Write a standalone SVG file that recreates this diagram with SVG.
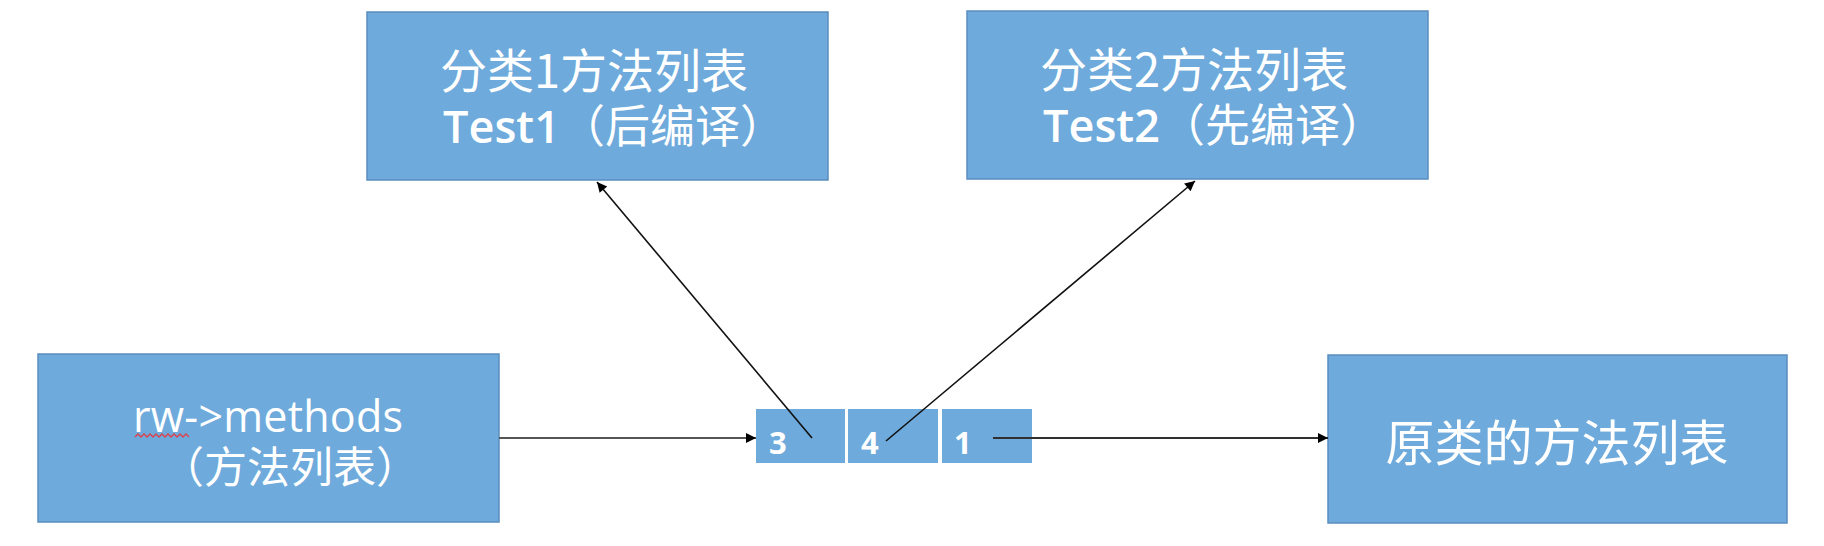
<svg xmlns="http://www.w3.org/2000/svg" width="1824" height="546" viewBox="0 0 1824 546">
<style>
.box{fill:#6eaadb;stroke:#5b8dbf;stroke-width:1.5}
.cell{fill:#6eaadb}
.t{fill:#ffffff;font-family:"Open Sans","Noto Sans CJK SC",sans-serif}
.cn{font-family:"Noto Sans CJK SC","Noto Sans",sans-serif}
.num{fill:#ffffff;font-family:"Open Sans","Liberation Sans",sans-serif;font-weight:bold;font-size:31px}
.ln{stroke:#111;stroke-width:1.6;fill:none}
</style>
<defs>
<marker id="ah2" viewBox="0 0 10 10" refX="10" refY="5" markerWidth="12" markerHeight="10" orient="auto" markerUnits="userSpaceOnUse">
<path d="M0,0 L10,5 L0,10 z" fill="#000"/>
</marker>
</defs>
<rect width="1824" height="546" fill="#ffffff"/>
<g id="cat1">
<rect class="box" x="367" y="12" width="461" height="168"/>
<text class="t cn" x="594" y="88" font-size="47" text-anchor="middle">分类1方法列表</text>
<text class="t" x="614" y="143" font-size="45" text-anchor="middle"><tspan font-weight="600" font-family="Open Sans,sans-serif">Test1</tspan><tspan class="cn">（后编译）</tspan></text>
</g>
<g id="cat2">
<rect class="box" x="967" y="11" width="461" height="168"/>
<text class="t cn" x="1194" y="87" font-size="47" text-anchor="middle">分类2方法列表</text>
<text class="t" x="1214" y="142" font-size="45" text-anchor="middle"><tspan font-weight="600" font-family="Open Sans,sans-serif">Test2</tspan><tspan class="cn">（先编译）</tspan></text>
</g>
<g id="methods">
<rect class="box" x="38" y="354" width="461" height="168"/>
<text class="t" x="268" y="432" font-size="43" text-anchor="middle" textLength="270">rw-&gt;methods</text>
<path d="M135,437 l3,-3 l3,3 l3,-3 l3,3 l3,-3 l3,3 l3,-3 l3,3 l3,-3 l3,3 l3,-3 l3,3 l3,-3 l3,3 l3,-3 l3,3 l3,-3 l3,3" fill="none" stroke="#e0404a" stroke-width="1.3"/>
<text class="t cn" x="290" y="483" font-size="43" text-anchor="middle">（方法列表）</text>
</g>
<g id="origin">
<rect class="box" x="1328" y="355" width="459" height="168"/>
<text class="t cn" x="1557" y="461" font-size="49" text-anchor="middle">原类的方法列表</text>
</g>
<g id="list">
<rect class="cell" x="756" y="409" width="89" height="54"/>
<rect class="cell" x="848" y="409" width="90" height="54"/>
<rect class="cell" x="942" y="409" width="90" height="54"/>
<text class="num" x="769" y="454">3</text>
<text class="num" x="861" y="454">4</text>
<text class="num" x="954" y="454">1</text>
</g>
<g id="connectors">
<line x1="499" y1="438" x2="756" y2="438" stroke="#555" stroke-width="2" marker-end="url(#ah2)"/>
<line class="ln" x1="812" y1="438" x2="597" y2="182" marker-end="url(#ah2)"/>
<line class="ln" x1="886" y1="441" x2="1195" y2="181" marker-end="url(#ah2)"/>
<line x1="993" y1="438" x2="1328" y2="438" stroke="#2f2f2f" stroke-width="2" marker-end="url(#ah2)"/>
</g>
</svg>
